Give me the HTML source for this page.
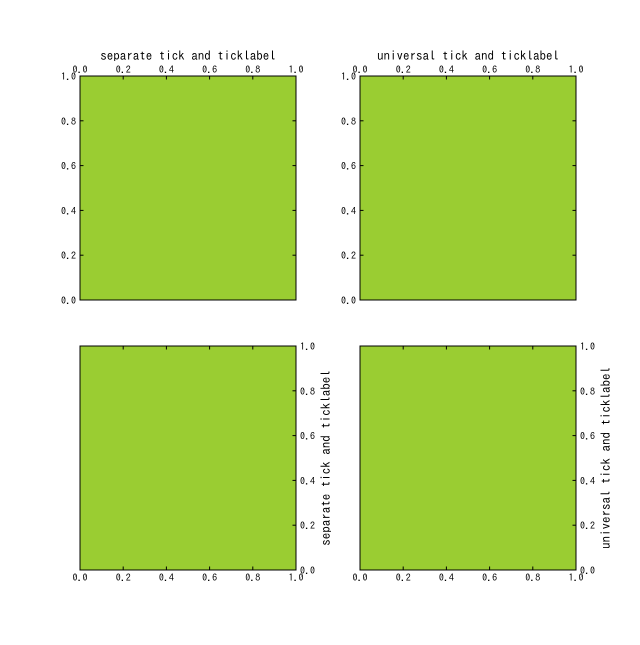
<!DOCTYPE html>
<html><head><meta charset="utf-8"><style>
html,body{margin:0;padding:0;background:#fff}
text{font-family:"IPAGothic","WenQuanYi Zen Hei","Noto Sans CJK JP",monospace;fill:#000}
</style></head><body>
<svg id="c" width="640" height="640" xmlns="http://www.w3.org/2000/svg"></svg>
<script>
const ticks = [0, 0.2, 0.4, 0.6, 0.8, 1.0];
const tickLabels = ["0.0","0.2","0.4","0.6","0.8","1.0"];
const titles = ["separate tick and ticklabel","universal tick and ticklabel"];
const svg = document.getElementById('c');
const NS = 'http://www.w3.org/2000/svg';
function el(tag, attrs, parent){const e=document.createElementNS(NS,tag);for(const k in attrs)e.setAttribute(k,attrs[k]);(parent||svg).appendChild(e);return e;}
const panels = [
 {x0:80,x1:296,y0:76,y1:300,top:true,col:0},
 {x0:360,x1:576,y0:76,y1:300,top:true,col:1},
 {x0:80,x1:296,y0:346,y1:570,top:false,col:0},
 {x0:360,x1:576,y0:346,y1:570,top:false,col:1}
];
panels.forEach((p,i)=>{
  const g = el('g',{});
  
  
  const sx=v=>p.x0+v*(p.x1-p.x0), sy=v=>p.y1-v*(p.y1-p.y0);
  const r = el('rect',{x:p.x0,y:p.y0,width:p.x1-p.x0,height:p.y1-p.y0,fill:'#9acd32',stroke:'#000','stroke-width':1},g);
  
  
  const L=3.5;
  ticks.forEach((t,j)=>{
    const x=sx(t), y=sy(t);
    el('line',{x1:x,x2:x,y1:p.y0,y2:p.y0+L,stroke:'#000'},g);
    el('line',{x1:p.x1,x2:p.x1-L,y1:y,y2:y,stroke:'#000'},g);
    if(p.top){
      el('line',{x1:p.x0,x2:p.x0+L,y1:y,y2:y,stroke:'#000'},g);
      const tx=el('text',{x:x,y:p.y0-3,'font-size':10,'text-anchor':'middle'},g);tx.textContent=tickLabels[j];
      
      
      const ty=el('text',{x:p.x0-4,y:y+4,'font-size':10,'text-anchor':'end'},g);ty.textContent=tickLabels[j];
      
      
    } else {
      el('line',{x1:x,x2:x,y1:p.y1,y2:p.y1-L,stroke:'#000'},g);
      const tx=el('text',{x:x,y:p.y1+11,'font-size':10,'text-anchor':'middle'},g);tx.textContent=tickLabels[j];
      
      
      const ty=el('text',{x:p.x1+4,y:y+4,'font-size':10,'text-anchor':'start'},g);ty.textContent=tickLabels[j];
      
      
    }
  });
  if(p.top){
    const t=el('text',{x:(p.x0+p.x1)/2,y:p.y0-16,'font-size':13,'text-anchor':'middle'},g);t.textContent=titles[p.col];
    
    
  } else {
    const cx=p.x1+34, cy=(p.y0+p.y1)/2;
    const t=el('text',{x:cx,y:cy,'font-size':13,'text-anchor':'middle',transform:`rotate(-90 ${cx} ${cy})`},g);t.textContent=titles[p.col];
    
    
  }
});
</script>
</body></html>
